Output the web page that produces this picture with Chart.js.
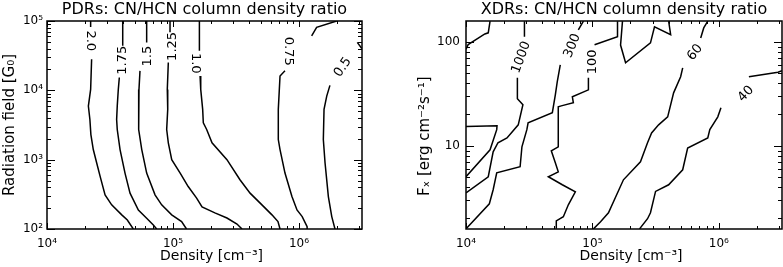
<!DOCTYPE html>
<html>
<head>
<meta charset="utf-8">
<script src="https://cdn.jsdelivr.net/npm/chart.js@4.4.1/dist/chart.umd.min.js"></script>
<style>
    html, body { margin: 0; padding: 0; background: #fff; }
    #wrap { position: relative; width: 783px; height: 267px; }
    .panel { position: absolute; top: 0; height: 267px; }
</style>
</head>
<body>
<div id="wrap">
    <div class="panel" style="left:0;width:400px"><canvas id="pdr" width="400" height="267"></canvas></div>
    <div class="panel" style="left:400px;width:383px"><canvas id="xdr" width="383" height="267"></canvas></div>
</div>
<script>
// ---- PDR panel: CN/HCN ratio contours, density [cm^-3] vs radiation field [G0]
var pdrLevels = ['2.0', '1.75', '1.5', '1.25', '1.0', '0.75', '0.5'];
// null = break in the line (label gap)
var pdrDensity = [
    [2.22e4, 2.22e4, null, 2.26e4, 2.22e4, 2.13e4, 2.19e4, 2.23e4, 2.33e4, 2.48e4, 2.64e4, 2.89e4, 3.26e4, 3.92e4, 4.34e4, 4.84e4],
    [3.99e4, 3.99e4, null, 3.75e4, 3.68e4, 3.61e4, 3.57e4, 3.61e4, 3.80e4, 4.16e4, 4.56e4, 5.31e4, 6.18e4, 6.98e4, 7.42e4],
    [6.18e4, 6.18e4, null, 5.47e4, 5.37e4, 5.31e4, 5.37e4, 5.65e4, 6.18e4, 7.20e4, 8.13e4, 9.77e4, 1.17e5, 1.28e5],
    [9.47e4, 9.47e4, null, 9.18e4, 9.01e4, 9.08e4, 8.91e4, 9.18e4, 9.77e4, 1.14e5, 1.32e5, 1.54e5, 1.70e5, 2.15e5, 2.68e5, 3.22e5, 3.53e5],
    [1.62e5, 1.62e5, null, 1.64e5, 1.66e5, 1.72e5, 1.74e5, 1.85e5, 2.04e5, 2.68e5, 3.40e5, 4.09e5, 5.08e5, 6.10e5, 6.81e5, 7.07e5],
    [1.26e6, 1.38e6, 1.99e6, null, 7.74e5, 7.07e5, 6.98e5, 6.85e5, 6.85e5, 6.85e5, 7.07e5, 7.74e5, 8.79e5, 9.64e5, 1.06e6, 1.16e6, 1.16e6],
    [2.90e6, 3.15e6, null, 1.76e6, 1.66e6, 1.58e6, 1.56e6, 1.61e6, 1.71e6, 1.82e6, 1.93e6]
];
var pdrField = [
    [1e5, 8.18e4, null, 2.81e4, 1.03e4, 5.92e3, 3.80e3, 2.30e3, 1.40e3, 896, 573, 311, 223, 160, 135, 100],
    [1e5, 4.38e4, null, 1.53e4, 1.03e4, 5.92e3, 3.80e3, 2.72e3, 1.40e3, 641, 329, 188, 143, 114, 100],
    [1e5, 4.91e4, null, 1.91e4, 1.03e4, 5.92e3, 2.72e3, 1.40e3, 641, 311, 223, 160, 128, 100],
    [1e5, 6.86e4, null, 2.52e4, 1.03e4, 5.31e3, 2.72e3, 1.75e3, 1.0e3, 641, 410, 279, 208, 171, 144, 118, 100],
    [1e5, 3.71e4, null, 1.61e4, 1.03e4, 5.31e3, 3.40e3, 2.72e3, 1.75e3, 1.0e3, 513, 329, 223, 160, 128, 100],
    [6.12e4, 8.11e4, 1e5, null, 1.91e4, 1.61e4, 1.03e4, 5.31e3, 2.72e3, 1.95e3, 1.40e3, 641, 294, 188, 151, 108, 100],
    [4.91e4, 4.02e4, null, 1.18e4, 8.26e3, 5.31e3, 1.95e3, 896, 294, 151, 100]
];
var pdrLabelDensity = [2.22e4, 4.01e4, 6.34e4, 1.00e5, 1.50e5, 8.18e5, 2.23e6];
var pdrLabelField = [5.18e4, 2.72e4, 3.11e4, 4.3e4, 2.46e4, 3.67e4, 2.15e4];
var pdrLabelAngle = [90, -90, -90, -90, 90, 90, -55];

// ---- XDR panel: density [cm^-3] vs X-ray flux [erg cm^-2 s^-1]
var xdrLevels = ['', '', '1000', '300', '100', '', '60', '40'];
var xdrDensity = [
    [1.0e4, 1.04e4, 1.41e4, 1.50e4, 1.55e4],
    [1.0e4, 1.76e4, 1.75e4, 1.55e4, 1.0e4],
    [2.90e4, 2.90e4, null, 2.55e4, 2.55e4, 2.82e4, 2.59e4, 2.11e4, 1.79e4, 1.64e4, 1.50e4, 1.0e4],
    [8.49e4, 7.74e4, null, 5.57e4, 5.27e4, 5.09e4, 4.82e4, 3.10e4, 3.03e4, 2.77e4, 2.68e4, 1.75e4, 1.64e4, 1.53e4, 1.0e4],
    [1.58e5, 1.58e5, 1.04e5, null, 9.30e4, 9.30e4, 6.94e4, 7.07e4, 5.67e4, 5.37e4, 5.37e4, 5.37e4, 4.73e4, 5.09e4, 5.37e4, 4.48e4, 5.78e4, 7.33e4, 6.45e4, 5.89e4, 5.18e4, 5.18e4],
    [1.73e5, 1.67e5, 1.83e5, 2.88e5, 3.10e5, 4.16e5, 4.01e5],
    [8.18e5, 7.60e5, 7.19e5, null, 5.18e5, 4.99e5, 4.39e5, 3.94e5, 3.34e5, 2.94e5, 2.73e5, 2.40e5, 1.76e5, 1.34e5, 1.16e5, 1.02e5],
    [1.73e6, 2.94e6, 3.16e6, null, 1.04e6, 9.82e5, 8.49e5, 8.18e5, 5.67e5, 5.18e5, 4.01e5, 3.16e5, 2.88e5, 2.73e5, 2.36e5]
];
var xdrFlux = [
    [85, 94, 119, 122, 158],
    [15.3, 15.6, 14.3, 9.15, 5.04],
    [158, 112, null, 45.1, 28.3, 24.8, 15.9, 11.9, 10.7, 8.75, 5.04, 3.53],
    [158, 130, null, 60.1, 41.2, 30.9, 20.8, 16.6, 14.3, 9.78, 6.29, 5.50, 3.78, 2.77, 1.59],
    [158, 112, 93.6, null, 45.1, 34.5, 29.6, 25.9, 24.2, 23.7, 11.4, 9.78, 8.95, 6.86, 5.62, 5.04, 4.22, 3.61, 2.71, 2.08, 1.90, 1.59],
    [158, 93, 62.8, 97.7, 139, 117, 158],
    [158, 136, 109, null, 56.2, 46.1, 32.3, 19.0, 15.9, 13.3, 10.7, 7.01, 4.71, 2.27, 1.86, 1.59],
    [46.1, 50.9, 52.6, null, 23.2, 19.0, 14.3, 11.9, 9.5, 5.88, 4.22, 3.64, 2.27, 1.99, 1.59]
];
var xdrLabelText = ['1000', '300', '100', '60', '40'];
var xdrLabelDensity = [2.74e4, 6.94e4, 1.0e5, 6.5e5, 1.64e6];
var xdrLabelFlux = [71.0, 91.6, 64, 79, 31.6];
var xdrLabelAngle = [-70, -68, -90, -52, -47];

// axis ticks
var densityTicks = [1e4, 1e5, 1e6];
var fieldTicks = [1e2, 1e3, 1e4, 1e5];
var fluxTicks = [10, 100];

Chart.defaults.font.family = '"DejaVu Sans", sans-serif';
Chart.defaults.color = '#000';

var supDigits = { '0': '\u2070', '1': '\u00b9', '2': '\u00b2', '3': '\u00b3', '4': '\u2074',
    '5': '\u2075', '6': '\u2076', '7': '\u2077', '8': '\u2078', '9': '\u2079' };

function powLabel(v) {
    var e = String(Math.round(Math.log10(v)));
    return '10' + e.split('').map(function (c) { return supDigits[c]; }).join('');
}

function logSteps(min, max) {
    var out = [];
    for (var e = Math.floor(Math.log10(min)); e <= Math.ceil(Math.log10(max)); e++) {
        for (var m = 1; m < 10; m++) {
            var v = m * Math.pow(10, e);
            if (v >= min * 0.999 && v <= max * 1.001) out.push({ v: v, major: m === 1 });
        }
    }
    return out;
}

// IDL style box with inward ticks on all four sides
var framePlugin = {
    id: 'frame',
    afterDraw: function (chart) {
        var ctx = chart.ctx, a = chart.chartArea;
        var xs = chart.scales.x, ys = chart.scales.y;
        ctx.save();
        ctx.strokeStyle = '#000';
        ctx.lineWidth = 1;
        ctx.beginPath();
        logSteps(xs.min, xs.max).forEach(function (t) {
            var p = Math.round(xs.getPixelForValue(t.v)) + 0.5;
            var len = t.major ? 6 : 3;
            ctx.moveTo(p, a.bottom); ctx.lineTo(p, a.bottom - len);
            ctx.moveTo(p, a.top); ctx.lineTo(p, a.top + len);
        });
        logSteps(ys.min, ys.max).forEach(function (t) {
            var p = Math.round(ys.getPixelForValue(t.v)) + 0.5;
            var len = t.major ? 8 : 4;
            ctx.moveTo(a.left, p); ctx.lineTo(a.left + len, p);
            ctx.moveTo(a.right, p); ctx.lineTo(a.right - len, p);
        });
        ctx.stroke();
        ctx.lineWidth = 1.5;
        ctx.strokeRect(a.left, a.top, a.right - a.left, a.bottom - a.top);
        ctx.restore();
    }
};

function labelPlugin(text, xv, yv, angle) {
    return {
        id: 'contourLabels',
        afterDatasetsDraw: function (chart) {
            var ctx = chart.ctx, xs = chart.scales.x, ys = chart.scales.y;
            ctx.save();
            ctx.font = '13px "DejaVu Sans"';
            ctx.fillStyle = '#000';
            ctx.textAlign = 'center';
            ctx.textBaseline = 'middle';
            for (var i = 0; i < text.length; i++) {
                ctx.save();
                ctx.translate(xs.getPixelForValue(xv[i]), ys.getPixelForValue(yv[i]));
                ctx.rotate(angle[i] * Math.PI / 180);
                ctx.fillText(text[i], 0, 0);
                ctx.restore();
            }
            ctx.restore();
        }
    };
}

function contourSets(levels, xv, yv) {
    return levels.map(function (lev, k) {
        return {
            label: lev,
            data: xv[k].map(function (x, i) { return { x: x, y: yv[k][i] }; }),
            showLine: true,
            borderColor: '#000',
            borderWidth: 1.5,
            pointRadius: 0,
            spanGaps: false,
            tension: 0
        };
    });
}

function makePanel(id, o) {
    return new Chart(document.getElementById(id), {
        type: 'scatter',
        data: { datasets: contourSets(o.levels, o.xv, o.yv) },
        plugins: [framePlugin, labelPlugin(o.labText, o.labX, o.labY, o.labAngle)],
        options: {
            responsive: false,
            animation: false,
            devicePixelRatio: 1,
            events: [],
            layout: { padding: { left: 0, right: o.padRight, top: 0, bottom: 0 } },
            scales: {
                x: {
                    type: 'logarithmic',
                    bounds: 'data',
                    min: 1e4,
                    max: Math.pow(10, 6.5),
                    afterBuildTicks: function (s) { s.ticks = densityTicks.map(function (v) { return { value: v }; }); },
                    afterFit: function (s) { s.height = 38; },
                    grid: { display: false, drawTicks: false },
                    border: { display: false },
                    ticks: { font: { size: 12 }, padding: 8, maxRotation: 0, autoSkip: false,
                        callback: function (v) { return powLabel(v); } },
                    title: { display: true, text: '\u2003Density [cm\u207b\u00b3]', font: { size: 14 },
                        padding: { top: 0, bottom: 2 } }
                },
                y: {
                    type: 'logarithmic',
                    bounds: 'data',
                    min: o.yMin,
                    max: o.yMax,
                    afterBuildTicks: function (s) { s.ticks = o.yTicks.map(function (v) { return { value: v }; }); },
                    afterFit: function (s) { s.width = o.yWidth; },
                    grid: { display: false, drawTicks: false },
                    border: { display: false },
                    ticks: { font: { size: 12 }, padding: o.yPad, autoSkip: false, callback: o.yFormat },
                    title: { display: true, text: o.yTitle, font: { size: 15 },
                        padding: { top: o.yTitlePad, bottom: 0 } }
                }
            },
            plugins: {
                legend: { display: false },
                tooltip: { enabled: false },
                title: {
                    display: true,
                    text: o.title,
                    fullSize: false,
                    font: { size: 16, weight: 'normal' },
                    padding: { top: 0, bottom: 1.8 }
                }
            }
        }
    });
}

makePanel('pdr', {
    levels: pdrLevels, xv: pdrDensity, yv: pdrField,
    labText: pdrLevels, labX: pdrLabelDensity, labY: pdrLabelField, labAngle: pdrLabelAngle,
    title: 'PDRs: CN/HCN column density ratio',
    yTitle: 'Radiation field [G\u2080]',
    yMin: 1e2, yMax: 1e5, yTicks: fieldTicks, yFormat: function (v) { return powLabel(v); },
    yWidth: 47, yPad: 4, yTitlePad: 1, padRight: 38
});

makePanel('xdr', {
    levels: xdrLevels, xv: xdrDensity, yv: xdrFlux,
    labText: xdrLabelText, labX: xdrLabelDensity, labY: xdrLabelFlux, labAngle: xdrLabelAngle,
    title: 'XDRs: CN/HCN column density ratio',
    yTitle: 'F\u2093 [erg cm\u207b\u00b2s\u207b\u00b9]\u2003\u2002',
    yMin: Math.pow(10, 0.2), yMax: Math.pow(10, 2.2), yTicks: fluxTicks, yFormat: function (v) { return String(v); },
    yWidth: 66, yPad: 6, yTitlePad: 16, padRight: 1
});
</script>
</body>
</html>
